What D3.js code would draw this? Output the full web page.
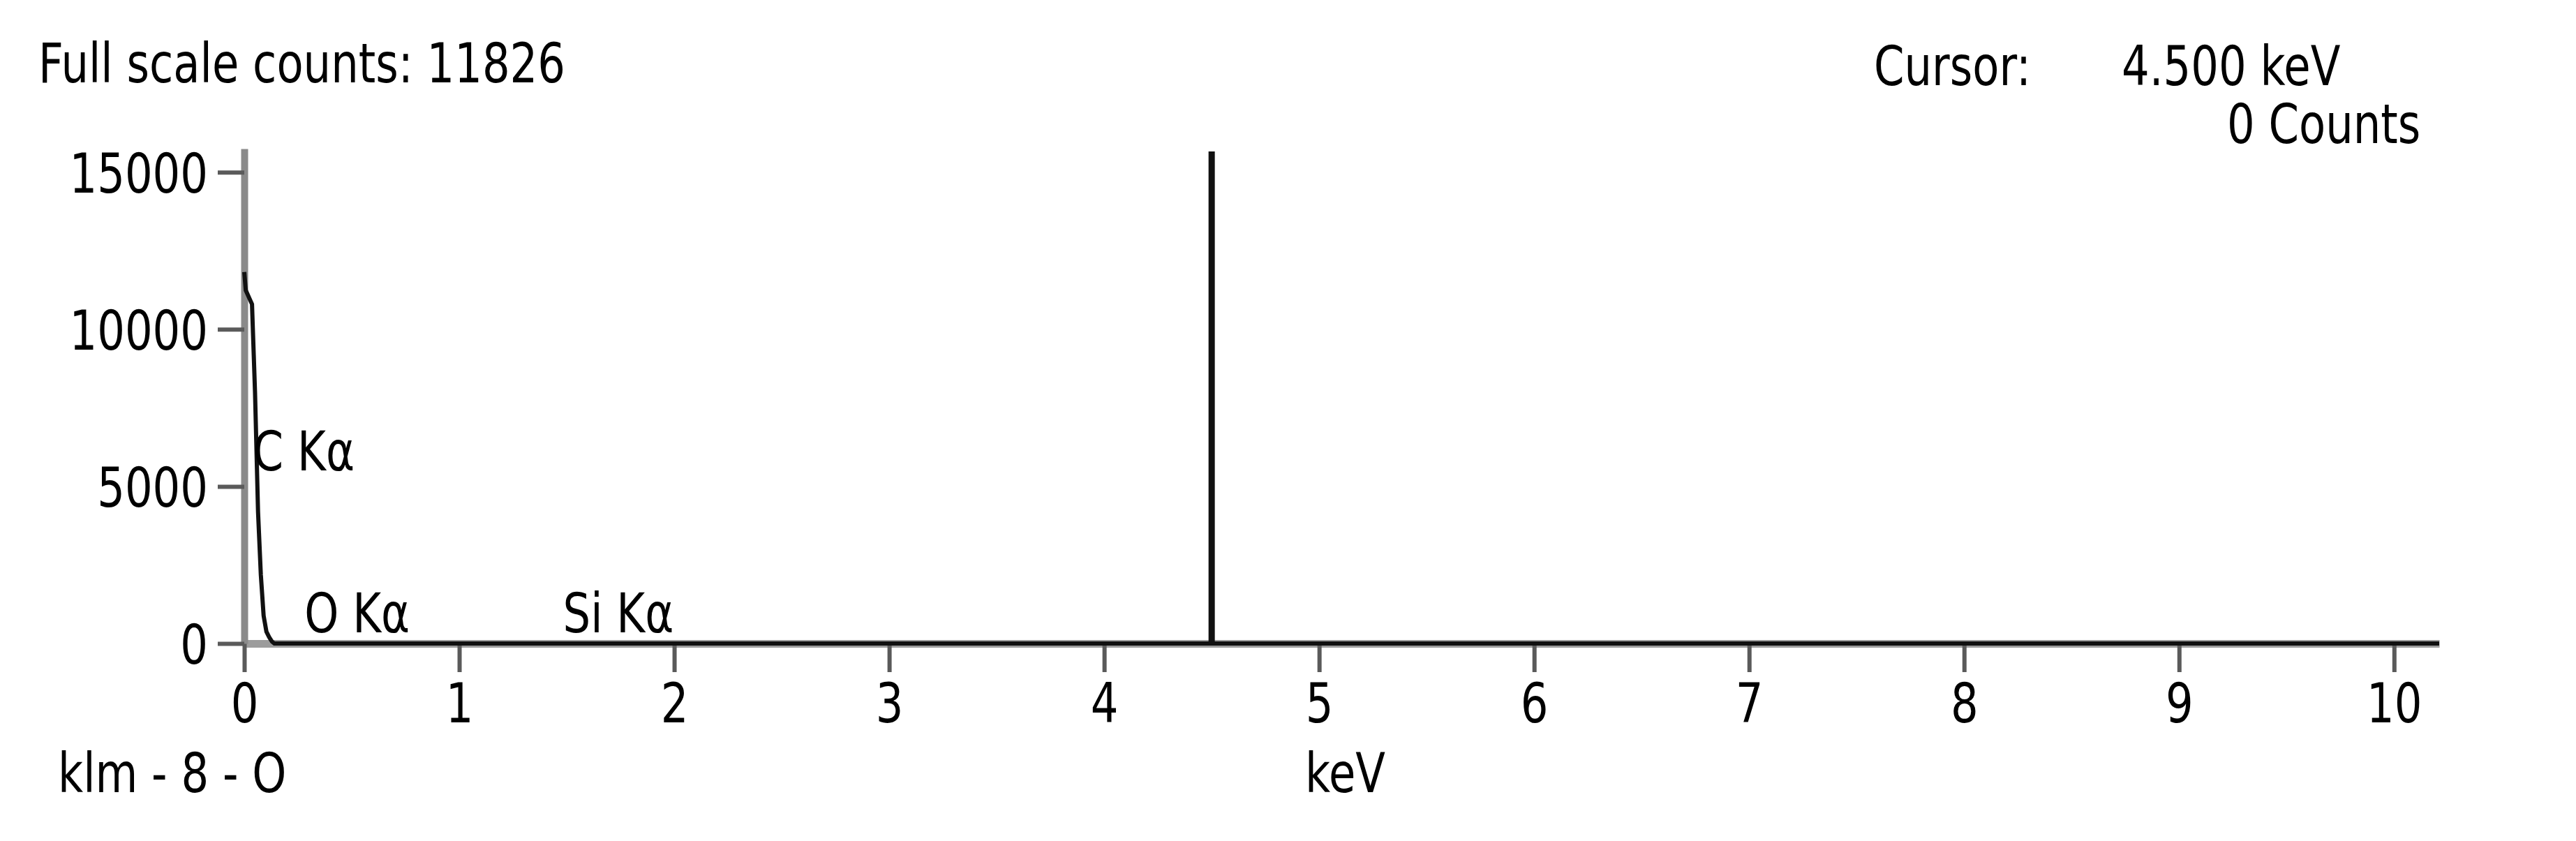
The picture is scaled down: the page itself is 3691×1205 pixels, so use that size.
<!DOCTYPE html>
<html>
<head>
<meta charset="utf-8">
<script src="https://cdn.jsdelivr.net/npm/d3@7"></script>
<style>
  html, body { margin: 0; padding: 0; background: #fff; }
  svg { display: block; font-family: "DejaVu Sans", sans-serif; }
</style>
</head>
<body>
<svg id="chart"></svg>
<script>
// spectrum (keV, counts)
const energy = [0, 0.007, 0.036, 0.05, 0.064, 0.077, 0.09, 0.103, 0.116, 0.129, 0.14, 10.21];
const counts = [11826, 11240, 10800, 8000, 4200, 2190, 885, 376, 199, 60, 0, 0];

const xTicks = [0, 1, 2, 3, 4, 5, 6, 7, 8, 9, 10];
const yTicks = [0, 5000, 10000, 15000];

// element markers: line energy and label height (counts)
const peakNames = ["C K\u03b1", "O K\u03b1", "Si K\u03b1"];
const peakKeV = [0.277, 0.525, 1.74];
const peakLabelCounts = [5520, 350, 350];

const fullScale = 11826;
const cursorKeV = 4.5;
const cursorCounts = 0;
const sampleName = "klm - 8 - O";

const width = 3691;
const height = 1205;
const squeeze = 0.8;   // the original font is narrow
const fontSize = 78;

const svg = d3.select("#chart")
  .attr("width", width)
  .attr("height", height);

const x = d3.scaleLinear().domain([0, 10.21]).range([350, 3495]);
const y = d3.scaleLinear().domain([0, 15750]).range([922, 213]);

function label(px, py, str, anchor){
  svg.append("g")
    .attr("transform", `translate(${px},${py}) scale(${squeeze},1)`)
    .append("text")
    .attr("text-anchor", anchor || "start")
    .attr("font-size", fontSize)
    .attr("fill", "#000")
    .text(str);
}

// header texts
label(55, 118, "Full scale counts: " + fullScale);
label(2685, 122, "Cursor:");
label(3040, 122, d3.format(".3f")(cursorKeV) + " keV");
label(3191, 205, cursorCounts + " Counts");

// x axis
const xAxis = svg.append("g")
  .attr("transform", `translate(0,${y(0)})`)
  .call(d3.axisBottom(x).tickValues(xTicks).tickSize(41).tickSizeOuter(0).tickPadding(17));

xAxis.select(".domain")
  .attr("stroke", "#9c9c9c")
  .attr("stroke-width", 11);

xAxis.selectAll(".tick line")
  .attr("stroke", "#5a5a5a")
  .attr("stroke-width", 6);

xAxis.selectAll(".tick text")
  .attr("font-size", fontSize)
  .attr("font-family", "DejaVu Sans")
  .attr("fill", "#000")
  .attr("transform", `scale(${squeeze},1)`);

// y axis
const yPad = 52;
const yAxis = svg.append("g")
  .attr("transform", `translate(${x(0)},0)`)
  .call(d3.axisLeft(y).tickValues(yTicks).tickFormat(d3.format("d"))
    .tickSize(38).tickSizeOuter(0).tickPadding(yPad - 38));

yAxis.select(".domain")
  .attr("stroke", "#8a8a8a")
  .attr("stroke-width", 10);

yAxis.selectAll(".tick line")
  .attr("stroke", "#5a5a5a")
  .attr("stroke-width", 6);

yAxis.selectAll(".tick text")
  .attr("font-size", fontSize)
  .attr("font-family", "DejaVu Sans")
  .attr("fill", "#000")
  .attr("x", -yPad / squeeze)
  .attr("dy", "0.37em")
  .attr("transform", `scale(${squeeze},1)`);

// spectrum trace
const line = d3.line()
  .x((d, i) => x(energy[i]))
  .y(d => y(d));

svg.append("path")
  .datum(counts)
  .attr("fill", "none")
  .attr("stroke", "#111")
  .attr("stroke-width", 6)
  .attr("stroke-linejoin", "miter")
  .attr("d", line);

// cursor
svg.append("line")
  .attr("x1", x(cursorKeV))
  .attr("x2", x(cursorKeV))
  .attr("y1", y(0))
  .attr("y2", y(15660))
  .attr("stroke", "#111")
  .attr("stroke-width", 9);

// peak labels
peakNames.forEach((name, i) => {
  label(x(peakKeV[i]), y(peakLabelCounts[i]), name, "middle");
});

// bottom texts
label(83, 1135, sampleName);
label(1870, 1135, "keV");
</script>
</body>
</html>
